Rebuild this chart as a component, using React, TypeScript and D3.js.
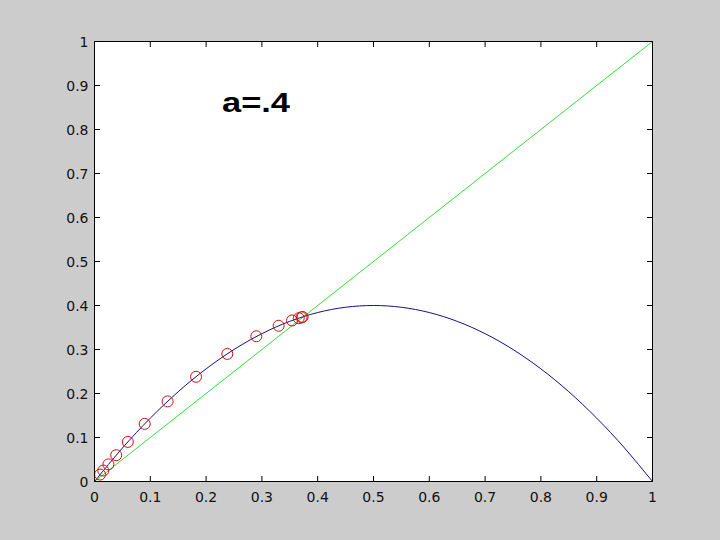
import React from "react";
import * as d3 from "d3";

const tickValues = [0, 0.1, 0.2, 0.3, 0.4, 0.5, 0.6, 0.7, 0.8, 0.9, 1];
const tickLabels = ["0", "0.1", "0.2", "0.3", "0.4", "0.5", "0.6", "0.7", "0.8", "0.9", "1"];

// blue curve samples (x, y)
const curveX = [0, 0.05, 0.1, 0.15, 0.2, 0.25, 0.3, 0.35, 0.4, 0.45, 0.5, 0.55, 0.6, 0.65, 0.7, 0.75, 0.8, 0.85, 0.9, 0.95, 1];
const curveY = [0, 0.076, 0.144, 0.204, 0.256, 0.3, 0.336, 0.364, 0.384, 0.396, 0.4, 0.396, 0.384, 0.364, 0.336, 0.3, 0.256, 0.204, 0.144, 0.076, 0];

// diagonal line
const diagX = [0, 1];
const diagY = [0, 1];

// red circles (x_n, x_{n+1})
const circleX = [0.01, 0.0158, 0.0249, 0.0389, 0.0598, 0.09, 0.131, 0.182, 0.238, 0.29, 0.33, 0.354, 0.366, 0.371, 0.373];
const circleY = [0.0158, 0.0249, 0.0389, 0.0598, 0.09, 0.131, 0.182, 0.238, 0.29, 0.33, 0.354, 0.366, 0.371, 0.373, 0.374];

const annotation = "a=.4";

const W = 720, H = 540;
const L = 94.5, R = 652.5, T = 41.5, B = 481.5;

export default function App() {
  const x = d3.scaleLinear().domain([0, 1]).range([L, R]);
  const y = d3.scaleLinear().domain([0, 1]).range([B, T]);
  const line = d3.line<[number, number]>().x(d => x(d[0])).y(d => y(d[1]));
  const curvePts: [number, number][] = curveX.map((v, i) => [v, curveY[i]]);
  const diagPts: [number, number][] = diagX.map((v, i) => [v, diagY[i]]);
  const curvePath = d3.line<[number, number]>().x(d => x(d[0])).y(d => y(d[1])).curve(d3.curveNatural)(curvePts) || "";
  const tl = 5.5;
  const font = "'DejaVu Sans', sans-serif";
  const boldFont = "'Liberation Sans', Arial, sans-serif";
  return (
    <svg width={W} height={H} style={{ position: "absolute", left: 0, top: 0 }}>
      <rect x={0} y={0} width={W} height={H} fill="#cccccc" />
      <rect x={L} y={T} width={R - L} height={B - T} fill="#ffffff" />
      <path d={line(diagPts) || ""} fill="none" stroke="#33dd33" strokeWidth={1} />
      <path d={curvePath} fill="none" stroke="#101088" strokeWidth={1} />
      {circleX.map((cx, i) => (
        <circle key={i} cx={x(cx)} cy={y(circleY[i])} r={5.5} fill="none" stroke="#cc1111" strokeWidth={1} />
      ))}
      <rect x={L} y={T} width={R - L} height={B - T} fill="none" stroke="#000" strokeWidth={1} />
      {tickValues.map((t, i) => (
        <g key={"t" + i}>
          <line x1={x(t)} x2={x(t)} y1={B} y2={B - tl} stroke="#000" />
          <line x1={x(t)} x2={x(t)} y1={T} y2={T + tl} stroke="#000" />
          <line x1={L} x2={L + tl} y1={y(t)} y2={y(t)} stroke="#000" />
          <line x1={R} x2={R - tl} y1={y(t)} y2={y(t)} stroke="#000" />
          <text x={x(t)} y={B + 20} textAnchor="middle" fontFamily={font} fontSize={14} fill="#111">{tickLabels[i]}</text>
          <text x={L - 6} y={y(t) + 5} textAnchor="end" fontFamily={font} fontSize={14} fill="#111">{tickLabels[i]}</text>
        </g>
      ))}
      <text x={222} y={112} fontFamily={boldFont} fontWeight="bold" fontSize={28} fill="#000" textLength={68} lengthAdjust="spacingAndGlyphs">{annotation}</text>
    </svg>
  );
}
